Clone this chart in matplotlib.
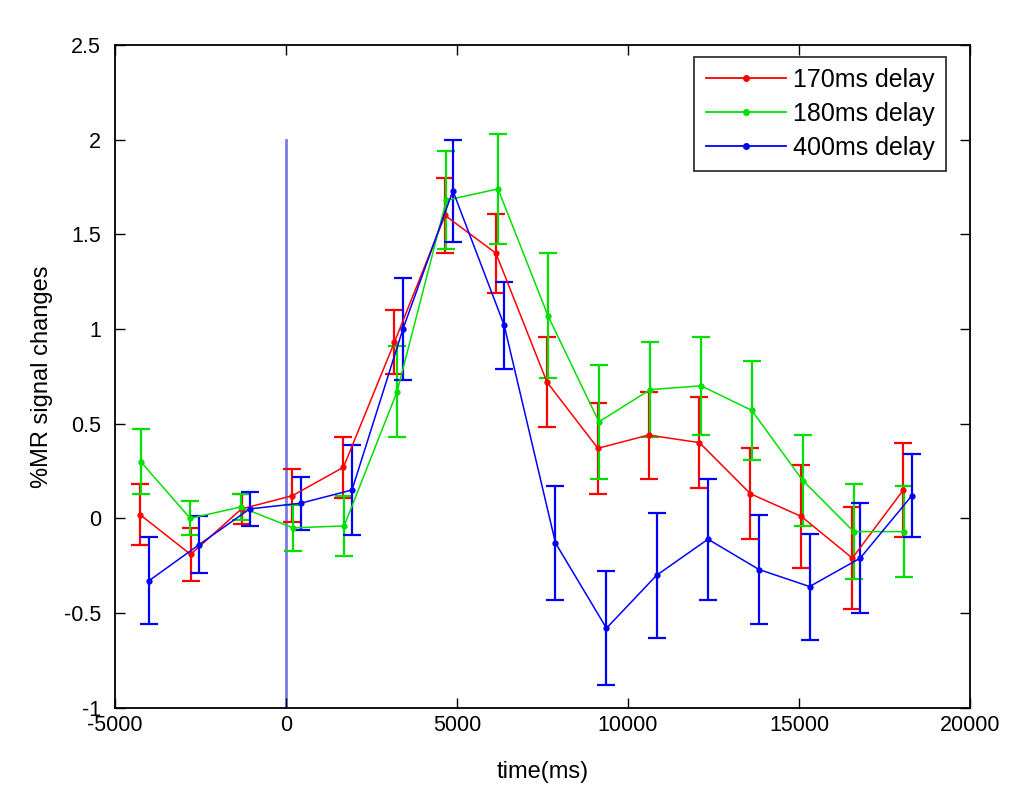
import matplotlib
matplotlib.use("Agg")
import matplotlib.pyplot as plt
from matplotlib.lines import Line2D

plt.rcParams['font.family'] = ['Liberation Sans', 'DejaVu Sans']

# time points (ms)
t_170 = [-4270, -2790, -1300, 190, 1680, 3170, 4650, 6140, 7630, 9120, 10600, 12090, 13580, 15070, 16560, 18050]
t_180 = [-4250, -2800, -1330, 200, 1700, 3250, 4690, 6200, 7660, 9150, 10650, 12140, 13620, 15110, 16600, 18080]
t_400 = [-4010, -2550, -1060, 430, 1930, 3420, 4880, 6380, 7880, 9370, 10840, 12340, 13830, 15310, 16790, 18300]

# %MR signal change
y_170 = [0.02, -0.19, 0.05, 0.12, 0.27, 0.93, 1.60, 1.40, 0.72, 0.37, 0.44, 0.40, 0.13, 0.01, -0.21, 0.15]
e_170 = [0.16, 0.14, 0.08, 0.14, 0.16, 0.17, 0.20, 0.21, 0.24, 0.24, 0.23, 0.24, 0.24, 0.27, 0.27, 0.25]

y_180 = [0.30, 0.00, 0.06, -0.05, -0.04, 0.67, 1.68, 1.74, 1.07, 0.51, 0.68, 0.70, 0.57, 0.20, -0.07, -0.07]
e_180 = [0.17, 0.09, 0.07, 0.12, 0.16, 0.24, 0.26, 0.29, 0.33, 0.30, 0.25, 0.26, 0.26, 0.24, 0.25, 0.24]

y_400 = [-0.33, -0.14, 0.05, 0.08, 0.15, 1.00, 1.73, 1.02, -0.13, -0.58, -0.30, -0.11, -0.27, -0.36, -0.21, 0.12]
e_400 = [0.23, 0.15, 0.09, 0.14, 0.24, 0.27, 0.27, 0.23, 0.30, 0.30, 0.33, 0.32, 0.29, 0.28, 0.29, 0.22]

labels = ['170ms delay', '180ms delay', '400ms delay']
colors = ['#ff0000', '#00e000', '#0000ff']

fig = plt.figure(figsize=(10.14, 7.89), dpi=100)
ax = fig.add_axes([0.1134, 0.103, 0.8432, 0.840])

# stimulus onset line
ax.plot([0, 0], [-1, 2], color='#7a7ae8', lw=2, zorder=1)

series = [(t_170, y_170, e_170), (t_180, y_180, e_180), (t_400, y_400, e_400)]
for (t, y, e), c in zip(series, colors):
    ax.errorbar(t, y, yerr=e, color=c, ecolor=c, lw=1.1, elinewidth=1.6,
                capsize=6.5, capthick=1.6, marker='.', markersize=7, zorder=3)

ax.set_xlim(-5000, 20000)
ax.set_ylim(-1, 2.5)
ax.set_xticks([-5000, 0, 5000, 10000, 15000, 20000])
ax.set_xticklabels(['-5000', '0', '5000', '10000', '15000', '20000'])
ax.set_yticks([-1, -0.5, 0, 0.5, 1, 1.5, 2, 2.5])
ax.set_yticklabels(['-1', '-0.5', '0', '0.5', '1', '1.5', '2', '2.5'])
ax.tick_params(direction='in', top=True, right=True, length=7, labelsize=15.5, width=1)
ax.tick_params(axis='y', pad=10)
ax.tick_params(axis='x', pad=5)
for s in ax.spines.values():
    s.set_linewidth(1.3)
ax.set_xlabel('time(ms)', fontsize=17, labelpad=18)
ax.set_ylabel('%MR signal changes', fontsize=17, labelpad=8)

handles = [Line2D([], [], color=c, lw=1.3, marker='.', markersize=8) for c in colors]
leg = ax.legend(handles, labels, loc='upper right', bbox_to_anchor=(0.972, 0.982), fontsize=18,
                fancybox=False, edgecolor='#333333', framealpha=1,
                handlelength=3.2, borderpad=0.45, labelspacing=0.4, handletextpad=0.3,
                borderaxespad=0)
leg.get_frame().set_linewidth(1.3)

fig.savefig('out.png', dpi=100)
